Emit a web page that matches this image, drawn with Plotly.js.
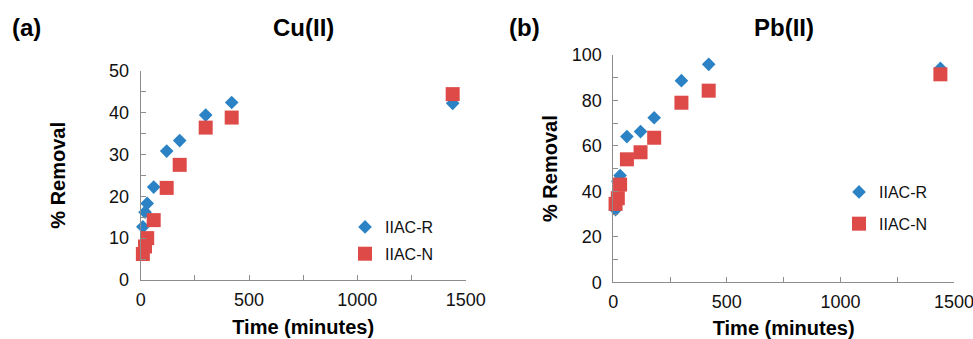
<!DOCTYPE html>
<html>
<head>
<meta charset="utf-8">
<script src="https://cdn.plot.ly/plotly-3.0.1.min.js"></script>
<style>html,body{margin:0;padding:0;background:#fff;}#chart{width:973px;height:339px;}</style>
</head>
<body>
<div id="chart"></div>
<script>
// Time points (minutes)
const timeMin = [10, 20, 30, 60, 120, 180, 300, 420, 1440];
// Cu(II) % removal
const cuIIACR = [12.7, 16.2, 18.3, 22.2, 30.8, 33.3, 39.4, 42.4, 42.2];
const cuIIACN = [6.2, 8.0, 10.0, 14.3, 22.0, 27.5, 36.4, 38.8, 44.4];
// Pb(II) % removal
const pbIIACR = [32.0, 44.5, 47.0, 64.1, 66.3, 72.4, 88.7, 95.9, 94.1];
const pbIIACN = [34.5, 37.0, 43.0, 54.1, 57.2, 63.6, 79.0, 84.3, 91.5];
const seriesNames = ['IIAC-R', 'IIAC-N'];
const panelTitles = ['Cu(II)', 'Pb(II)'];
const panelLabels = ['(a)', '(b)'];

const BLUE = '#2B82C4', RED = '#DE4A47';
const FONT = 'Liberation Sans, Arial, Helvetica, sans-serif';
const AXC = '#8c8c8c';

function diamond(x, y, xa, ya, lg, grp) {
  return {x: x, y: y, xaxis: xa, yaxis: ya, type: 'scatter', mode: 'markers', name: seriesNames[0],
    legend: lg, legendgroup: grp,
    marker: {symbol: 'diamond', size: 10.5, color: BLUE, line: {width: 0}}, cliponaxis: false};
}
function square(x, y, xa, ya, lg, grp) {
  return {x: x, y: y, xaxis: xa, yaxis: ya, type: 'scatter', mode: 'markers', name: seriesNames[1],
    legend: lg, legendgroup: grp,
    marker: {symbol: 'square', size: 14, color: RED, line: {width: 0}}, cliponaxis: false};
}

const data = [
  diamond(timeMin, cuIIACR, 'x', 'y', 'legend', 'a1'),
  square(timeMin, cuIIACN, 'x', 'y', 'legend', 'a2'),
  diamond(timeMin, pbIIACR, 'x2', 'y2', 'legend2', 'b1'),
  square(timeMin, pbIIACN, 'x2', 'y2', 'legend2', 'b2')
];

function xax(domain, anchor) {
  return {domain: domain, anchor: anchor, range: [0, 1500], tick0: 0, dtick: 500,
    ticks: 'inside', ticklen: 5, tickcolor: AXC, tickwidth: 1,
    minor: {dtick: 250, ticks: 'inside', ticklen: 5, tickcolor: AXC, tickwidth: 1, showgrid: false},
    showline: true, linecolor: AXC, linewidth: 1, showgrid: false, zeroline: false,
    ticklabelstandoff: 3, ticklabeloverflow: 'allow',
    tickfont: {family: FONT, size: 18, color: '#111'}, automargin: false,
    title: {text: '<b>Time (minutes)</b>', font: {family: FONT, size: 20, color: '#000'}, standoff: 11}};
}
function yax(domain, anchor, max, dt, titleStandoff) {
  return {domain: domain, anchor: anchor, range: [0, max], tick0: 0, dtick: dt,
    ticks: 'inside', ticklen: 5, tickcolor: AXC, tickwidth: 1,
    minor: {dtick: dt / 2, ticks: 'inside', ticklen: 5, tickcolor: AXC, tickwidth: 1, showgrid: false},
    showline: true, linecolor: AXC, linewidth: 1, showgrid: false, zeroline: false,
    ticklabelstandoff: 7, ticklabeloverflow: 'allow',
    tickfont: {family: FONT, size: 18, color: '#111'}, automargin: false,
    title: {text: '<b>% Removal</b>', font: {family: FONT, size: 20, color: '#000'}, standoff: titleStandoff}};
}

const layout = {
  width: 973, height: 339,
  margin: {l: 0, r: 0, t: 0, b: 0},
  paper_bgcolor: '#fff', plot_bgcolor: '#fff',
  font: {family: FONT},
  xaxis: xax([0.1446, 0.4786], 'y'),
  yaxis: yax([0.1741, 0.7915], 'x', 50, 10, 38),
  xaxis2: xax([0.6303, 0.9805], 'y2'),
  yaxis2: yax([0.1673, 0.8378], 'x2', 100, 20, 8),
  legend: {x: 0.3546, y: 0.3687 + 4 / 339, xanchor: 'left', yanchor: 'top', bgcolor: 'rgba(0,0,0,0)',
    font: {family: FONT, size: 16, color: '#111'}, traceorder: 'grouped', tracegroupgap: 3},
  legend2: {x: 0.8623, y: 0.475 + 3 / 339, xanchor: 'left', yanchor: 'top', bgcolor: 'rgba(0,0,0,0)',
    font: {family: FONT, size: 16, color: '#111'}, traceorder: 'grouped', tracegroupgap: 8},
  annotations: [
    {text: '<b>' + panelLabels[0] + '</b>', xref: 'paper', yref: 'paper', x: 26.5 / 973, y: 1 - 27 / 339,
      xanchor: 'center', yanchor: 'middle', showarrow: false, font: {family: FONT, size: 24, color: '#000'}},
    {text: '<b>' + panelTitles[0] + '</b>', xref: 'paper', yref: 'paper', x: 303 / 973, y: 1 - 27 / 339,
      xanchor: 'center', yanchor: 'middle', showarrow: false, font: {family: FONT, size: 24, color: '#000'}},
    {text: '<b>' + panelLabels[1] + '</b>', xref: 'paper', yref: 'paper', x: 524.5 / 973, y: 1 - 27 / 339,
      xanchor: 'center', yanchor: 'middle', showarrow: false, font: {family: FONT, size: 24, color: '#000'}},
    {text: '<b>' + panelTitles[1] + '</b>', xref: 'paper', yref: 'paper', x: 784 / 973, y: 1 - 27 / 339,
      xanchor: 'center', yanchor: 'middle', showarrow: false, font: {family: FONT, size: 24, color: '#000'}}
  ]
};

Plotly.newPlot('chart', data, layout, {displayModeBar: false, staticPlot: true});
</script>
</body>
</html>
